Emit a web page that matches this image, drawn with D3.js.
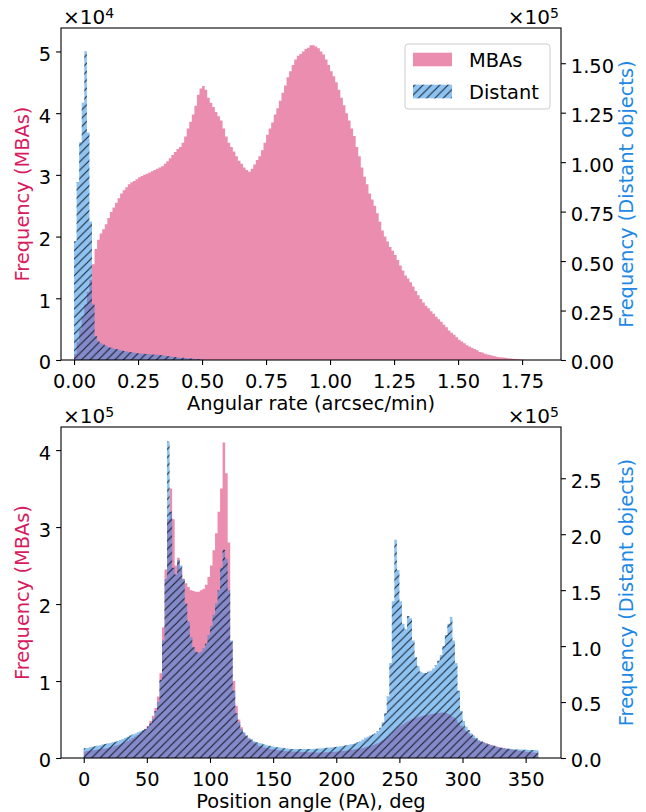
<!DOCTYPE html>
<html>
<head>
<meta charset="utf-8">
<script src="https://cdn.jsdelivr.net/npm/d3@7"></script>
<style>
  body { margin: 0; background: #fff; }
  svg { font-family: 'DejaVu Sans', sans-serif; }
</style>
</head>
<body>
<svg id="chart" width="646" height="812"></svg>
<script>
/* global d3 */

// ---- angular rate histogram: bins of 0.01 arcsec/min starting at 0, counts in thousands
const rateBinStart = 0;
const rateBinWidth = 0.01;
const rateMbaK = [
  1, 3, 5, 7, 9, 11, 13, 15.5, 18, 19.5,
  20.5, 21.2, 22, 23, 24, 24.7, 25.5, 26.2, 27, 27.5,
  28, 28.5, 28.8, 29, 29.3, 29.6, 29.8, 30, 30.2, 30.4,
  30.6, 30.8, 31, 31.2, 31.4, 31.8, 32.2, 32.7, 33.2, 33.7,
  34.2, 34.5, 35.2, 36.2, 37.5, 38.6, 39.8, 41.2, 43, 44,
  44.4, 43.8, 42.5, 41.7, 41, 40.2, 39.5, 38.8, 37.5, 36.2,
  35.2, 34.5, 33.8, 33, 32.3, 31.8, 31.2, 30.8, 30.5, 31,
  31.7, 32.4, 33, 34, 35.2, 36.5, 37.5, 38.5, 39.8, 40.8,
  42, 43.3, 44.5, 45.8, 46.8, 47.8, 48.7, 49.3, 49.6, 50,
  50.4, 50.6, 51, 51, 50.8, 50.5, 50, 49.5, 48.7, 47.8,
  46.8, 46, 45, 43.8, 42.5, 41.3, 40, 38.8, 37.5, 36.3,
  34.5, 33, 31.2, 29.7, 28.5, 27, 26, 25, 23.8, 22.4,
  21, 20, 19.2, 18.3, 17.7, 17, 16.2, 15.3, 14.5, 13.7,
  13.2, 12.6, 11.9, 11.2, 10.5, 9.9, 9.3, 8.8, 8.4, 7.9,
  7.5, 7, 6.6, 6.2, 5.7, 5.3, 4.8, 4.4, 4.1, 3.7,
  3.3, 3, 2.7, 2.4, 2.2, 2, 1.8, 1.6, 1.3, 1.2,
  1, 0.9, 0.8, 0.7, 0.6, 0.5, 0.45, 0.4, 0.35, 0.3,
  0.25, 0.2, 0.15, 0.12, 0.1, 0.05
];
const rateDistantK = [
  60, 90, 110, 130, 156, 115, 70, 28, 12, 9.5,
  8.5, 7.8, 7.2, 6.6, 6.2, 5.8, 5.5, 5.2, 4.9, 4.6,
  4.3, 4.1, 3.9, 3.7, 3.5, 3.3, 3.2, 3.1, 3, 2.9,
  2.8, 2.7, 2.6, 2.5, 2.4, 2.2, 2, 1.8, 1.6, 1.5,
  1.3, 1.2, 1.1, 1, 0.9, 0.8, 0.6, 0.5, 0.4, 0.3
];
const rateTicks = [0, 0.25, 0.5, 0.75, 1, 1.25, 1.5, 1.75];
const rateMbaTicksK = [0, 10, 20, 30, 40, 50];          // x1e4
const rateDistTicksK = [0, 25, 50, 75, 100, 125, 150];  // x1e5

// ---- position angle histogram: bins of 2 deg starting at 0, counts in thousands
const paBinStart = 0;
const paBinWidth = 2;
const paMbaK = [
  8.6, 9, 9.5, 10, 10.5, 11, 11.5, 12, 12.5, 13,
  14, 15, 16, 17, 18, 19, 20.5, 22, 24, 26,
  28, 30, 32, 35, 38, 42, 48, 55, 65, 80,
  110, 170, 245, 310, 350, 310, 250, 260, 245, 233,
  227, 222, 218, 217, 216, 216, 218, 220, 225, 235,
  250, 270, 292, 320, 350, 410, 370, 280, 150, 100,
  68, 50, 40, 32, 28, 25, 22, 20, 18, 16,
  15, 14, 13, 12, 11.5, 11, 10.5, 10, 9.5, 9,
  8.8, 8.6, 8.5, 8.4, 8.2, 8, 7.8, 7.7, 7.6, 7.5,
  7.4, 7.3, 7.3, 7.3, 7.3, 7.4, 7.5, 7.7, 7.9, 8.1,
  8.4, 8.7, 9, 9.4, 9.8, 10.3, 10.8, 11.3, 11.8, 12.4,
  13, 14, 15, 16, 17, 18, 19, 21, 23, 25,
  28, 31, 34, 37, 40, 42, 44, 46, 48, 50,
  51, 52, 53, 54, 55, 55.5, 56, 57, 57.5, 58,
  58.5, 59, 59, 58.5, 57, 55, 53, 50, 46, 42,
  38, 35, 32, 29, 26, 24, 22, 21, 20, 19,
  18, 17, 16, 15, 14, 13.5, 13, 12, 11.5, 11,
  10.5, 10, 9.5, 9, 8.5, 8, 7.7, 7.3, 7, 6.5
];
const paDistantK = [
  8.7, 9, 9.5, 10, 10.5, 11, 11.5, 12, 12.5, 13,
  13.5, 14, 14.5, 15, 16, 17, 18, 19, 20, 21,
  22, 23, 24, 25, 26, 28, 31, 35, 42, 50,
  70, 105, 160, 283, 220, 170, 164, 177, 172, 160,
  138, 122, 108, 99, 95, 94, 95, 98, 102, 110,
  118, 128, 138, 150, 170, 186, 178, 150, 105, 60,
  40, 32, 26, 23, 20, 18, 16.5, 15, 14, 13.5,
  13, 12, 11.5, 11, 10.5, 10, 9.7, 9.4, 9.1, 8.8,
  8.5, 8.3, 8.1, 8, 8, 8, 8, 8, 8, 8,
  8.1, 8.2, 8.3, 8.5, 8.7, 8.9, 9.1, 9.3, 9.5, 9.8,
  10, 10.4, 10.8, 11.2, 11.6, 12, 12.5, 13, 14, 15,
  16.5, 18, 19, 20, 21, 22, 24, 27, 32, 40,
  55, 85, 140, 195, 168, 140, 120, 115, 127, 125,
  105, 90, 82, 77, 76, 76, 77, 78, 80, 83,
  87, 92, 100, 110, 120, 126, 105, 85, 60, 42,
  33, 28, 25, 22, 20, 18, 16, 15, 14, 13,
  12, 11.5, 11, 10, 9.5, 9, 8.7, 8.5, 8.2, 8,
  7.8, 7.7, 7.6, 7.5, 7.4, 7.3, 7.2, 7.2, 7.1, 7
];
const paTicks = [0, 50, 100, 150, 200, 250, 300, 350];
const paMbaTicksK = [0, 100, 200, 300, 400];            // x1e5
const paDistTicksK = [0, 50, 100, 150, 200, 250];       // x1e5

const mbaColor = '#D81B60';
const distColor = '#1E88E5';
const fontSize = 19.4;
const tickLen = 4.9;

const svg = d3.select('#chart');

// hatch '//' like matplotlib
const defs = svg.append('defs');
const hs = 8.33;
defs.append('pattern')
  .attr('id', 'hatch')
  .attr('patternUnits', 'userSpaceOnUse')
  .attr('width', hs)
  .attr('height', hs)
  .append('path')
    .attr('d', `M-1,1 L1,-1 M0,${hs} L${hs},0 M${hs - 1},${hs + 1} L${hs + 1},${hs - 1}`)
    .attr('stroke', '#000')
    .attr('stroke-opacity', 0.8)
    .attr('stroke-width', 1.1);

// step outline of a histogram
const histPoints = (values, start, width) => values.flatMap((v, i) => [
  [start + i * width, v],
  [start + (i + 1) * width, v],
]);

const drawPanel = ({
  top, bottom, left, right, xDomain, xTicks, xFmt, xLabel,
  mba, dist, binStart, binWidth, yLeftDomain, yLeftTicks, yLeftFmt, leftExp,
  yRightDomain, yRightTicks, yRightFmt, rightExp,
}) => {
  const x = d3.scaleLinear().domain(xDomain).range([left, right]);
  const yL = d3.scaleLinear().domain(yLeftDomain).range([bottom, top]);
  const yR = d3.scaleLinear().domain(yRightDomain).range([bottom, top]);

  const g = svg.append('g');

  const areaL = d3.area().x(d => x(d[0])).y0(yL(0)).y1(d => yL(d[1]));
  const areaR = d3.area().x(d => x(d[0])).y0(yR(0)).y1(d => yR(d[1]));

  g.append('path')
    .attr('d', areaL(histPoints(mba, binStart, binWidth)))
    .attr('fill', mbaColor)
    .attr('fill-opacity', 0.5);

  const distPath = areaR(histPoints(dist, binStart, binWidth));
  g.append('path')
    .attr('d', distPath)
    .attr('fill', distColor)
    .attr('fill-opacity', 0.5);
  g.append('path')
    .attr('d', distPath)
    .attr('fill', 'url(#hatch)');

  // axes
  const styleAxis = sel => {
    sel.select('.domain').remove();
    sel.selectAll('line').attr('stroke', '#000').attr('stroke-width', 1.1);
    sel.selectAll('text')
      .attr('fill', '#000')
      .style('font-size', `${fontSize}px`)
      .style('font-family', 'DejaVu Sans, sans-serif');
  };

  g.append('g')
    .attr('transform', `translate(0,${bottom})`)
    .call(d3.axisBottom(x).tickValues(xTicks).tickFormat(xFmt)
      .tickSize(tickLen).tickPadding(tickLen))
    .call(styleAxis)
    .selectAll('text').attr('dy', '0.93em');

  g.append('g')
    .attr('transform', `translate(${left},0)`)
    .call(d3.axisLeft(yL).tickValues(yLeftTicks).tickFormat(yLeftFmt)
      .tickSize(tickLen).tickPadding(tickLen))
    .call(styleAxis)
    .selectAll('text').attr('dy', '0.46em');

  g.append('g')
    .attr('transform', `translate(${right},0)`)
    .call(d3.axisRight(yR).tickValues(yRightTicks).tickFormat(yRightFmt)
      .tickSize(tickLen).tickPadding(tickLen))
    .call(styleAxis)
    .selectAll('text').attr('dy', '0.46em');

  // spines
  g.append('rect')
    .attr('x', left).attr('y', top)
    .attr('width', right - left).attr('height', bottom - top)
    .attr('fill', 'none').attr('stroke', '#000').attr('stroke-width', 1.1);

  // offset texts (x10^n)
  const offsetText = (xPos, anchor, exp) => {
    const t = g.append('text')
      .attr('x', xPos).attr('y', top - 4)
      .attr('text-anchor', anchor)
      .style('font-size', '20px');
    t.append('tspan').text('\u00d710');
    t.append('tspan').text(exp)
      .attr('dy', '-0.45em')
      .style('font-size', '14px');
  };
  offsetText(left + 2, 'start', leftExp);
  offsetText(right - 2, 'end', rightExp);

  // axis labels
  const midY = (top + bottom) / 2;
  g.append('text')
    .attr('transform', `translate(${(left + right) / 2},${bottom + 50})`)
    .attr('text-anchor', 'middle')
    .style('font-size', `${fontSize}px`)
    .text(xLabel);

  g.append('text')
    .attr('transform', `translate(28.5,${midY}) rotate(-90)`)
    .attr('text-anchor', 'middle')
    .attr('fill', mbaColor)
    .style('font-size', `${fontSize}px`)
    .text('Frequency (MBAs)');

  g.append('text')
    .attr('transform', `translate(633,${midY}) rotate(-90)`)
    .attr('text-anchor', 'middle')
    .attr('fill', distColor)
    .style('font-size', `${fontSize}px`)
    .text('Frequency (Distant objects)');

  return g;
};

const topPanel = drawPanel({
  top: 28, bottom: 360, left: 61, right: 561,
  xDomain: [-0.051, 1.902],
  xTicks: rateTicks,
  xFmt: d => d.toFixed(2),
  xLabel: 'Angular rate (arcsec/min)',
  mba: rateMbaK, dist: rateDistantK,
  binStart: rateBinStart, binWidth: rateBinWidth,
  yLeftDomain: [0, 53.8], yLeftTicks: rateMbaTicksK, yLeftFmt: d => d / 10,
  leftExp: '4',
  yRightDomain: [0, 167.8], yRightTicks: rateDistTicksK, yRightFmt: d => (d / 100).toFixed(2),
  rightExp: '5',
});

drawPanel({
  top: 427, bottom: 758, left: 61, right: 561,
  xDomain: [-18, 378],
  xTicks: paTicks,
  xFmt: d => d,
  xLabel: 'Position angle (PA), deg',
  mba: paMbaK, dist: paDistantK,
  binStart: paBinStart, binWidth: paBinWidth,
  yLeftDomain: [0, 430], yLeftTicks: paMbaTicksK, yLeftFmt: d => d / 100,
  leftExp: '5',
  yRightDomain: [0, 295.8], yRightTicks: paDistTicksK, yRightFmt: d => (d / 100).toFixed(1),
  rightExp: '5',
});

// legend (top panel only)
const legend = topPanel.append('g');
legend.append('rect')
  .attr('x', 405).attr('y', 44).attr('width', 145).attr('height', 65).attr('rx', 3)
  .attr('fill', '#fff').attr('fill-opacity', 0.8)
  .attr('stroke', '#ccc').attr('stroke-width', 1);
const legendItems = [
  { label: 'MBAs', color: mbaColor, hatch: false },
  { label: 'Distant', color: distColor, hatch: true },
];
legendItems.forEach((item, i) => {
  const yy = 52.7 + i * 32;
  legend.append('rect')
    .attr('x', 413).attr('y', yy).attr('width', 39).attr('height', 13.6)
    .attr('fill', item.color).attr('fill-opacity', 0.5);
  if (item.hatch) {
    legend.append('rect')
      .attr('x', 413).attr('y', yy).attr('width', 39).attr('height', 13.6)
      .attr('fill', 'url(#hatch)');
  }
  legend.append('text')
    .attr('x', 469).attr('y', yy + 14)
    .style('font-size', `${fontSize}px`)
    .text(item.label);
});
</script>
</body>
</html>
